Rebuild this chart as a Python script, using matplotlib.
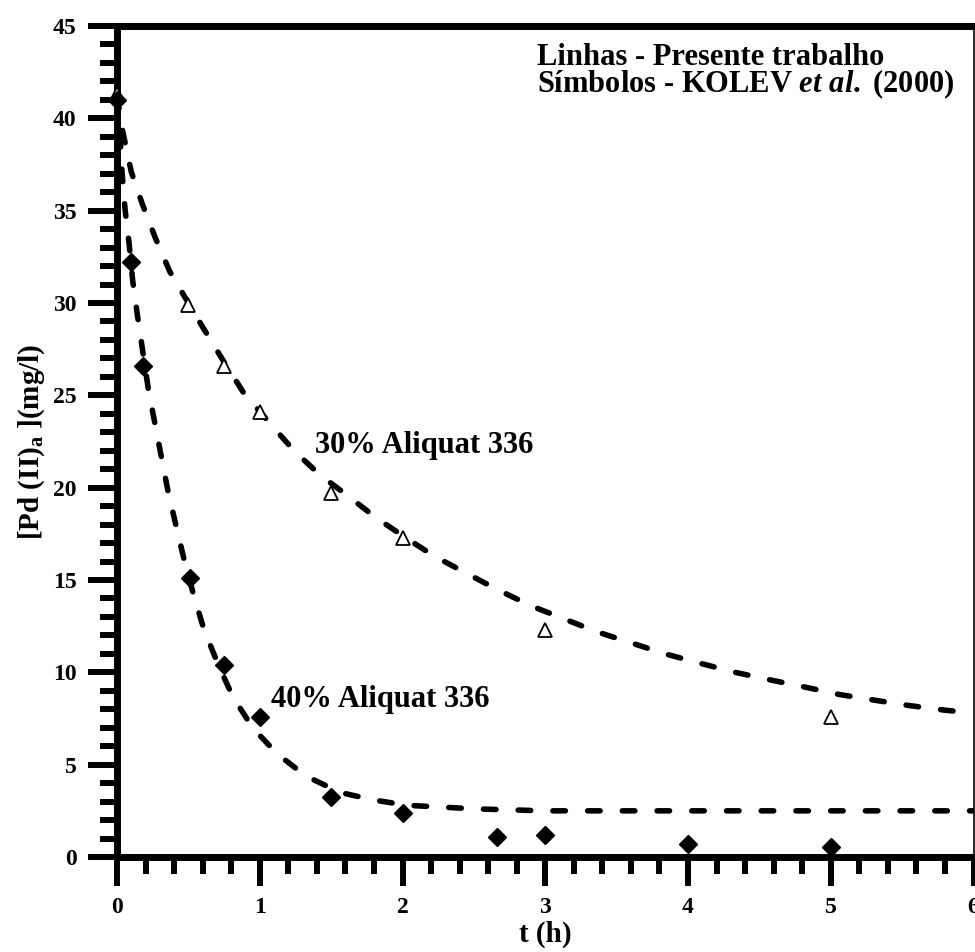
import matplotlib
matplotlib.use("Agg")
import matplotlib.pyplot as plt
from matplotlib.ticker import MultipleLocator

plt.rcParams['font.family'] = ['Liberation Serif', 'DejaVu Serif']
plt.rcParams['font.weight'] = 'bold'
plt.rcParams['mathtext.fontset'] = 'custom'
plt.rcParams['mathtext.rm'] = 'Liberation Serif:bold'
plt.rcParams['mathtext.bf'] = 'Liberation Serif:bold'
plt.rcParams['mathtext.it'] = 'Liberation Serif:bold:italic'
plt.rcParams['lines.scale_dashes'] = False

# Experimental data (KOLEV et al. 2000)
t_30 = [0, 0.5, 0.75, 1.0, 1.5, 2.0, 3.0, 5.0]
c_30 = [41.3, 29.9, 26.6, 24.1, 19.7, 17.3, 12.3, 7.6]

t_40 = [0, 0.1, 0.18, 0.51, 0.75, 1.0, 1.5, 2.0, 2.66, 3.0, 4.0, 5.0]
c_40 = [41.0, 32.2, 26.6, 15.1, 10.4, 7.6, 3.25, 2.4, 1.1, 1.2, 0.7, 0.55]

# Model curves (present work)
tl_30 = [0, 0.04, 0.10, 0.18, 0.27, 0.37, 0.5, 0.6, 0.75, 0.89, 1.07, 1.24, 1.42,
         1.61, 1.81, 2.02, 2.22, 2.44, 2.66, 2.9, 3.13, 3.36, 3.6, 3.84, 4.08,
         4.33, 4.57, 4.82, 5.06, 5.3, 5.55, 5.8, 6.0]
cl_30 = [41.2, 39.3, 37.1, 35.3, 33.5, 31.7, 30.0, 28.7, 26.8, 25.1, 23.5, 22.0, 20.7,
         19.6, 18.4, 17.3, 16.3, 15.4, 14.5, 13.6, 12.9, 12.2, 11.6, 11.0, 10.5,
         10.0, 9.6, 9.2, 8.8, 8.5, 8.2, 7.95, 7.8]

tl_40 = [0, 0.02, 0.035, 0.056, 0.085, 0.11, 0.14, 0.18, 0.22, 0.27, 0.31, 0.36,
         0.47, 0.54, 0.61, 0.71, 0.81, 0.95, 1.12, 1.32, 1.56, 1.79, 2.03, 2.53,
         3.0, 4.0, 5.0, 6.0]
cl_40 = [41.0, 39.4, 37.1, 35.1, 33.2, 31.2, 29.5, 27.4, 25.3, 23.3, 21.7, 19.7,
         16.1, 14.1, 12.3, 10.4, 8.7, 7.0, 5.6, 4.4, 3.5, 3.1, 2.8, 2.6,
         2.5, 2.5, 2.5, 2.5]

x_ticks = [0, 1, 2, 3, 4, 5, 6]
y_ticks = [0, 5, 10, 15, 20, 25, 30, 35, 40, 45]

fig = plt.figure(figsize=(9.75, 9.52), dpi=100)
ax = fig.add_axes([117/975, 95/952, (973.5-117)/975, (857-26)/952])

dash = (0, (9, 16))
ax.plot(tl_30, cl_30, color='black', lw=4, linestyle=dash, dash_capstyle='round', zorder=2)
ax.plot(tl_40, cl_40, color='black', lw=4, linestyle=dash, dash_capstyle='round', zorder=2)

ax.plot(t_30, c_30, linestyle='none', marker='^', ms=10.5, mfc='white', mec='black',
        mew=1.3, clip_on=False, zorder=3)
ax.plot(t_40, c_40, linestyle='none', marker='D', ms=9, mfc='black', mec='black',
        clip_on=False, zorder=3)

ax.set_xlim(0, 6)
ax.set_ylim(0, 45)
ax.set_xticks(x_ticks)
ax.set_yticks(y_ticks)
ax.xaxis.set_minor_locator(MultipleLocator(0.2))
ax.yaxis.set_minor_locator(MultipleLocator(1))
ax.tick_params(which='both', direction='out', width=4.3, top=False, right=False)
ax.tick_params(which='major', length=21, labelsize=17, pad=8)
ax.tick_params(which='minor', length=12)
for lab in ax.get_xticklabels() + ax.get_yticklabels():
    lab.set_fontweight('bold')

for s in ['left', 'bottom', 'top']:
    ax.spines[s].set_linewidth(5)
ax.spines['right'].set_linewidth(1.2)

ax.set_xlabel('t (h)', fontsize=21, fontweight='bold', labelpad=2)
ax.set_ylabel('[Pd (II)$_\\mathrm{a}$ ](mg/l)', fontsize=21, fontweight='bold', labelpad=4)

ax.text(1.39, 21.9, '30% Aliquat 336', fontsize=22, fontweight='bold', va='baseline', ha='left')
ax.text(1.08, 8.1, '40% Aliquat 336', fontsize=22, fontweight='bold', va='baseline', ha='left')

ax.text(2.94, 44.1, 'Linhas - Presente trabalho\nSímbolos - KOLEV $\\mathit{et\\ al.}$ (2000)',
        fontsize=22, fontweight='bold', va='top', ha='left', linespacing=0.85)

fig.savefig('out.png', dpi=100)
